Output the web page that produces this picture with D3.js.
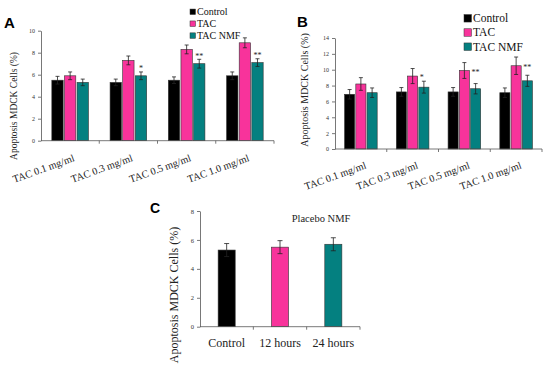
<!DOCTYPE html>
<html>
<head>
<meta charset="utf-8">
<script src="https://cdn.jsdelivr.net/npm/d3@7"></script>
<style>
  body { margin: 0; background: #fff; }
  svg { display: block; font-family: "Liberation Serif", "Times New Roman", serif; }
</style>
</head>
<body>
<svg id="chart" width="550" height="366"></svg>
<script>
// ---------------- DATA ----------------
const doseCategories = ["TAC 0.1 mg/ml", "TAC 0.3 mg/ml", "TAC 0.5 mg/ml", "TAC 1.0 mg/ml"];
const seriesNames = ["Control", "TAC", "TAC NMF"];
const seriesColors = ["#000000", "#f8339b", "#048080"];

// Panel A
const aControl = [5.5, 5.3, 5.5, 5.9];
const aTac     = [5.9, 7.3, 8.3, 8.9];
const aNmf     = [5.3, 5.9, 7.0, 7.1];
const aControlErr = [0.35, 0.3, 0.3, 0.35];
const aTacErr     = [0.35, 0.4, 0.4, 0.45];
const aNmfErr     = [0.3, 0.35, 0.4, 0.35];
const aStars = ["", "*", "**", "**"];          // on TAC NMF bars
const aTicks = [0, 2, 4, 6, 8, 10];

// Panel B
const bControl = [6.9, 7.2, 7.2, 7.1];
const bTac     = [8.2, 9.2, 9.9, 10.5];
const bNmf     = [7.1, 7.8, 7.6, 8.6];
const bControlErr = [0.6, 0.55, 0.55, 0.6];
const bTacErr     = [0.8, 0.95, 1.0, 1.1];
const bNmfErr     = [0.6, 0.75, 0.65, 0.7];
const bStars = ["", "*", "**", "**"];          // beside TAC bars
const bTicks = [0, 2, 4, 6, 8, 10, 12, 14];

// Panel C
const cCategories = ["Control", "12 hours", "24 hours"];
const cValues = [5.3, 5.5, 5.7];
const cErr    = [0.45, 0.45, 0.45];
const cTicks  = [0, 2, 4, 6, 8];
const cTitle  = "Placebo NMF";

const yLabel = "Apoptosis MDCK Cells (%)";

// ---------------- DRAW ----------------
const svg = d3.select("#chart");
const SERIF = '"Liberation Serif", "Times New Roman", serif';
const SANS = '"Liberation Sans", Arial, sans-serif';

function drawYAxis(g, y, x0, ticks, fs) {
  const ax = d3.axisLeft(y).tickValues(ticks).tickSize(3).tickSizeOuter(0).tickPadding(3);
  const a = g.append("g").attr("transform", `translate(${x0},0)`).call(ax);
  a.attr("font-family", null).attr("font-size", null);
  a.select(".domain").attr("stroke", "#555").attr("stroke-width", 0.8);
  a.selectAll(".tick line").attr("stroke", "#555").attr("stroke-width", 0.8);
  a.selectAll(".tick text").style("font-family", SERIF).style("font-size", fs + "px").attr("fill", "#333");
}

function drawXAxis(g, x, yBase, bounds) {
  const r = x.range();
  g.append("line").attr("x1", r[0]).attr("x2", r[1]).attr("y1", yBase).attr("y2", yBase)
    .attr("stroke", "#555").attr("stroke-width", 0.8);
  g.selectAll(".xt").data(bounds).join("line").attr("class", "xt")
    .attr("x1", d => d).attr("x2", d => d).attr("y1", yBase).attr("y2", yBase + 3)
    .attr("stroke", "#555").attr("stroke-width", 0.8);
}

function errorBar(g, cx, yTop, yBot, cap) {
  g.append("line").attr("x1", cx).attr("x2", cx).attr("y1", yTop).attr("y2", yBot)
    .attr("stroke", "#222").attr("stroke-width", 0.8);
  g.append("line").attr("x1", cx - cap / 2).attr("x2", cx + cap / 2).attr("y1", yTop).attr("y2", yTop)
    .attr("stroke", "#222").attr("stroke-width", 0.8);
  g.append("line").attr("x1", cx - cap / 2).attr("x2", cx + cap / 2).attr("y1", yBot).attr("y2", yBot)
    .attr("stroke", "#222").attr("stroke-width", 0.8);
}

function groupedPanel(opts) {
  const g = svg.append("g");
  const x = d3.scaleBand().domain(doseCategories).range([opts.x0, opts.x1]);
  const pad = x.bandwidth() * opts.padFrac;
  const xs = d3.scaleBand().domain(seriesNames).range([pad, x.bandwidth() - pad]).paddingInner(0.1);
  const y = d3.scaleLinear().domain([0, opts.yMax]).range([opts.yBase, opts.yTop]);
  const vals = [opts.control, opts.tac, opts.nmf];
  const errs = [opts.controlErr, opts.tacErr, opts.nmfErr];

  seriesNames.forEach((s, si) => {
    doseCategories.forEach((c, ci) => {
      const bx = x(c) + xs(s);
      const v = vals[si][ci];
      g.append("rect").attr("x", bx).attr("y", y(v)).attr("width", xs.bandwidth())
        .attr("height", y(0) - y(v)).attr("fill", seriesColors[si])
        .attr("stroke", "#333").attr("stroke-width", 0.6);
    });
  });
  seriesNames.forEach((s, si) => {
    doseCategories.forEach((c, ci) => {
      const cx = x(c) + xs(s) + xs.bandwidth() / 2;
      const v = vals[si][ci], e = errs[si][ci];
      errorBar(g, cx, y(v + e), y(v - e), 4);
    });
  });

  drawYAxis(g, y, opts.x0, opts.ticks, 6);
  const bounds = d3.range(1, doseCategories.length + 1).map(i => opts.x0 + i * x.step());
  drawXAxis(g, x, opts.yBase, bounds);

  // x labels, rotated
  g.selectAll(".xl").data(doseCategories).join("text").attr("class", "xl")
    .attr("transform", d => `translate(${x(d) + x.bandwidth() / 2 + opts.lblDx},${opts.yBase + opts.lblDy}) rotate(-20)`)
    .attr("text-anchor", "end").style("font-size", "10.3px").attr("fill", "#222").text(d => d);

  // y label
  g.append("text").attr("transform", `translate(${opts.yLblX},${opts.yLblY}) rotate(-90)`)
    .attr("text-anchor", "middle").style("font-size", opts.yLblFs + "px").attr("fill", "#222").text(yLabel);

  // legend
  seriesNames.forEach((s, si) => {
    const cy = opts.legY + si * opts.legStep;
    g.append("rect").attr("x", opts.legX).attr("y", cy - opts.legSq / 2).attr("width", opts.legSq).attr("height", opts.legSq)
      .attr("fill", seriesColors[si]).attr("stroke", "#333").attr("stroke-width", 0.5);
    g.append("text").attr("x", opts.legX + opts.legSq + 1.5).attr("y", cy + opts.legFs * 0.34)
      .style("font-size", opts.legFs + "px").attr("fill", "#111").text(s);
  });

  // panel letter
  g.append("text").attr("x", opts.letterX).attr("y", opts.letterY)
    .style("font-family", SANS).style("font-weight", "bold").style("font-size", "15px")
    .attr("fill", "#000").text(opts.letter);

  return { g, x, xs, y };
}

// Panel A
const A = groupedPanel({
  x0: 41, x1: 274, yBase: 140.7, yTop: 30.7, yMax: 10, padFrac: 0.186, ticks: aTicks,
  control: aControl, tac: aTac, nmf: aNmf, controlErr: aControlErr, tacErr: aTacErr, nmfErr: aNmfErr,
  lblDx: 5, lblDy: 20, yLblX: 17, yLblY: 106, yLblFs: 9.5,
  legX: 190, legY: 11.8, legStep: 11.9, legSq: 5.5, legFs: 10,
  letter: "A", letterX: 4, letterY: 28
});
doseCategories.forEach((c, ci) => {
  if (!aStars[ci]) return;
  const cx = A.x(c) + A.xs("TAC NMF") + A.xs.bandwidth() / 2;
  A.g.append("text").attr("x", cx).attr("y", A.y(aNmf[ci] + aNmfErr[ci]) - 0.5)
    .attr("text-anchor", "middle").style("font-size", "8px").attr("fill", "#222").text(aStars[ci]);
});

// Panel B
const B = groupedPanel({
  x0: 335, x1: 542, yBase: 149, yTop: 38, yMax: 14, padFrac: 0.185, ticks: bTicks,
  control: bControl, tac: bTac, nmf: bNmf, controlErr: bControlErr, tacErr: bTacErr, nmfErr: bNmfErr,
  lblDx: 6, lblDy: 19, yLblX: 308, yLblY: 90, yLblFs: 10,
  legX: 464, legY: 18.3, legStep: 14.2, legSq: 7.5, legFs: 11.5,
  letter: "B", letterX: 297, letterY: 27
});
doseCategories.forEach((c, ci) => {
  if (!bStars[ci]) return;
  const rx = B.x(c) + B.xs("TAC") + B.xs.bandwidth();
  B.g.append("text").attr("x", rx + 2).attr("y", B.y(bTac[ci]) + 4)
    .attr("text-anchor", "start").style("font-size", "8px").attr("fill", "#222").text(bStars[ci]);
});

// Panel C
(function () {
  const g = svg.append("g");
  const x = d3.scaleBand().domain(cCategories).range([200, 360]);
  const y = d3.scaleLinear().domain([0, 8]).range([326.7, 211]);
  const bw = x.bandwidth() * 0.32;
  g.selectAll(".cb").data(cCategories).join("rect").attr("class", "cb")
    .attr("x", d => x(d) + x.bandwidth() / 2 - bw / 2)
    .attr("y", (d, i) => y(cValues[i])).attr("width", bw)
    .attr("height", (d, i) => y(0) - y(cValues[i]))
    .attr("fill", (d, i) => seriesColors[i]).attr("stroke", "#333").attr("stroke-width", 0.6);
  cCategories.forEach((d, i) => {
    errorBar(g, x(d) + x.bandwidth() / 2, y(cValues[i] + cErr[i]), y(cValues[i] - cErr[i]), 5);
  });
  drawYAxis(g, y, 200, cTicks, 6.5);
  const bounds = d3.range(1, cCategories.length + 1).map(i => 200 + i * x.step());
  drawXAxis(g, x, 326.7, bounds);
  g.selectAll(".cl").data(cCategories).join("text").attr("class", "cl")
    .attr("x", d => x(d) + x.bandwidth() / 2).attr("y", 347)
    .attr("text-anchor", "middle").style("font-size", "12px").attr("fill", "#222").text(d => d);
  g.append("text").attr("x", 321).attr("y", 221.5).attr("text-anchor", "middle")
    .style("font-size", "10.5px").attr("fill", "#222").text(cTitle);
  g.append("text").attr("transform", "translate(178,295) rotate(-90)")
    .attr("text-anchor", "middle").style("font-size", "12px").attr("fill", "#222").text(yLabel);
  g.append("text").attr("x", 150).attr("y", 213)
    .style("font-family", SANS).style("font-weight", "bold").style("font-size", "14px")
    .attr("fill", "#000").text("C");
})();
</script>
</body>
</html>
